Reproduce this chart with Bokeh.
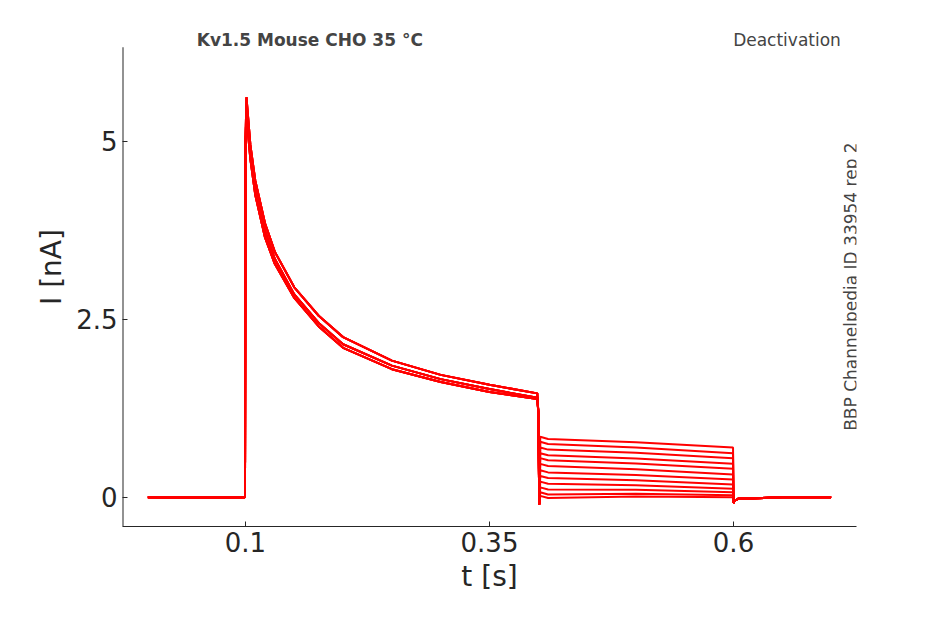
import numpy as np
from bokeh.plotting import figure
from bokeh.models import Label, Range1d, FixedTicker
from bokeh.embed import file_html
from bokeh.resources import INLINE

# activation phase (shared shape, three read variants)
act_t = [0.0, 0.05, 0.0995, 0.1, 0.101, 0.105, 0.11, 0.12, 0.13, 0.15, 0.175, 0.2, 0.25, 0.3, 0.35, 0.399]
act_a = [0.0, -0.01, 0.0, 5.0, 5.62, 4.95, 4.45, 3.85, 3.45, 2.95, 2.55, 2.25, 1.92, 1.72, 1.58, 1.46]
act_b = [0.0, 0.0, 0.0, 4.9, 5.5, 4.85, 4.35, 3.75, 3.35, 2.85, 2.45, 2.15, 1.85, 1.66, 1.52, 1.40]
act_c = [0.0, 0.0, 0.0, 4.8, 5.35, 4.75, 4.25, 3.65, 3.28, 2.80, 2.40, 2.10, 1.80, 1.62, 1.48, 1.38]
# deactivation levels per trace (start ~0.402 s, end ~0.6 s)
deact_start = [0.85, 0.78, 0.70, 0.62, 0.55, 0.47, 0.38, 0.30, 0.22, 0.14, 0.07, 0.02]
deact_end = [0.70, 0.62, 0.55, 0.47, 0.40, 0.32, 0.25, 0.18, 0.12, 0.07, 0.03, 0.0]
tail_t = [0.6, 0.601, 0.605, 0.65, 0.7]
tail_i = [-0.08, -0.05, -0.02, 0.0, 0.0]

Y_LO, Y_AX_TOP, Y_TOP = -0.41, 6.32, 6.88
X_LO, X_HI = -0.026, 0.726

p = figure(width=930, height=606, output_backend="svg", toolbar_location=None,
           x_range=Range1d(X_LO, X_HI), y_range=Range1d(Y_LO, Y_TOP),
           min_border_left=122, min_border_right=74, min_border_top=7, min_border_bottom=80)
p.outline_line_color = None
p.grid.visible = False

acts = [act_a, act_b, act_c]
for k, (s, e) in enumerate(zip(deact_start, deact_end)):
    a = acts[k % 3]
    t = act_t + [0.4, 0.401, 0.402, 0.41, 0.5, 0.5995] + tail_t
    i = a + [1.2, -0.1, s, s - 0.03, (s + e) / 2, e] + tail_i
    p.line(t, i, line_color="red", line_width=2)

# left spine limited to the axes box
p.segment(x0=[X_LO], y0=[Y_LO], x1=[X_LO], y1=[Y_AX_TOP], line_color="#262626", line_width=2)

p.xaxis.ticker = FixedTicker(ticks=[0.1, 0.35, 0.6])
p.yaxis.ticker = FixedTicker(ticks=[0, 2.5, 5])
p.xaxis.major_label_overrides = {0.1: "0.1", 0.35: "0.35", 0.6: "0.6"}
p.yaxis.major_label_overrides = {0: "0", 2.5: "2.5", 5: "5"}
for ax in (p.xaxis, p.yaxis):
    ax.minor_tick_line_color = None
    ax.major_tick_out = 0
    ax.major_tick_in = 5
    ax.major_label_text_font = "DejaVu Sans"
    ax.major_label_text_font_size = "26px"
    ax.major_label_text_color = "#262626"
    ax.axis_label_text_font = "DejaVu Sans"
    ax.axis_label_text_font_size = "28px"
    ax.axis_label_text_font_style = "normal"
    ax.axis_label_text_color = "#262626"
    ax.axis_line_color = "#262626"
    ax.major_tick_line_color = "#262626"
p.yaxis.axis_line_color = None
p.xaxis.axis_label = "t [s]"
p.yaxis.axis_label = "I [nA]"

p.add_layout(Label(x=0.175, y=6.42, text="Kv1.5  Mouse  CHO  35 °C", text_align="center",
                   text_baseline="middle", text_font="DejaVu Sans", text_font_style="bold",
                   text_font_size="17px"))
p.add_layout(Label(x=0.71, y=6.42, text="Deactivation", text_align="right",
                   text_baseline="middle", text_font="DejaVu Sans", text_font_size="17px"))
p.add_layout(Label(x=0.72, y=2.96, text="BBP Channelpedia ID 33954 rep 2", text_align="center",
                   text_baseline="middle", angle=np.pi / 2, text_font="DejaVu Sans",
                   text_font_size="17px"))

open("out.html", "w").write(file_html(p, INLINE))
